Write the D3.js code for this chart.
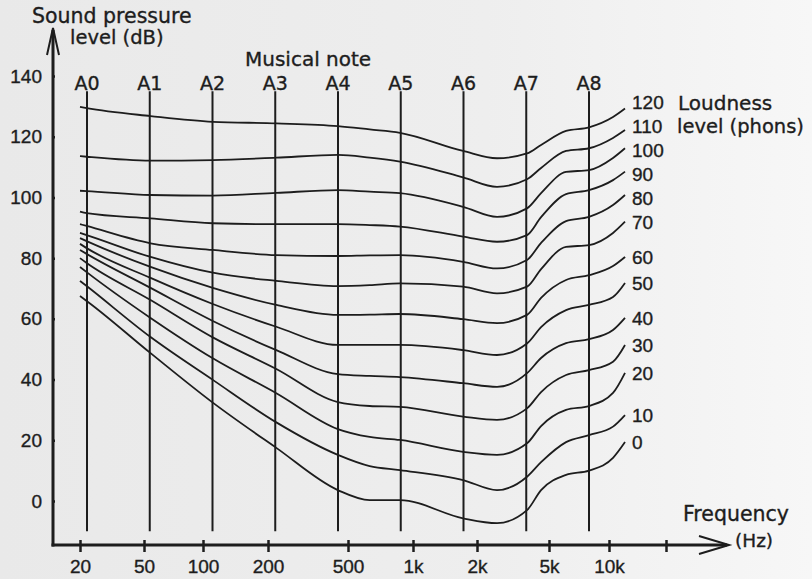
<!DOCTYPE html>
<html>
<head>
<meta charset="utf-8">
<script src="https://cdn.jsdelivr.net/npm/d3@7"></script>
<style>
  html, body { margin: 0; padding: 0; background: #eeeeee; }
  svg { display: block; }
  text { stroke: #1d1d1d; stroke-width: 0.35px; }
</style>
</head>
<body>
<svg id="chart"></svg>
<script>
// frequency axis (Hz)
const freqTicks = [20, 50, 100, 200, 500, 1000, 2000, 5000, 10000, 20000];
const freqTickLabels = ['20', '50', '100', '200', '500', '1k', '2k', '5k', '10k', ''];
// sound pressure axis (dB)
const dbTicks = [0, 20, 40, 60, 80, 100, 120, 140];
// musical notes, one octave apart
const notes = ['A0', 'A1', 'A2', 'A3', 'A4', 'A5', 'A6', 'A7', 'A8'];

const sampleFreqs = [20, 22, 54, 111, 220, 445, 630, 870, 1720, 2580, 3780, 4520, 6090, 7940, 10500, 12150];

// sound pressure level (dB) of each loudness contour at sampleFreqs
const spl120 = [129.8, 129.4, 126.8, 124.9, 124.4, 123.5, 122.4, 121.3, 115.3, 112.9, 114.5, 117.3, 121.9, 123.1, 126.5, 129.3];
const spl110 = [113.6, 113.4, 112.1, 112.3, 113.1, 114.0, 113.1, 111.8, 106.6, 103.5, 106.0, 109.7, 115.3, 116.2, 119.6, 122.2];
const spl100 = [102.2, 102.1, 100.8, 100.6, 101.5, 102.4, 101.9, 101.4, 96.9, 93.6, 96.4, 101.4, 108.4, 109.0, 113.0, 116.2];
const spl90 = [95.3, 94.8, 93.1, 91.5, 91.2, 91.2, 90.9, 90.4, 87.1, 85.4, 87.6, 93.5, 101.1, 102.4, 105.7, 108.5];
const spl80 = [91.2, 90.6, 84.9, 82.7, 81.0, 80.7, 80.9, 81.0, 78.8, 76.6, 79.4, 85.0, 92.2, 93.6, 97.5, 100.8];
const spl70 = [88.3, 87.6, 80.4, 75.2, 72.5, 70.8, 71.1, 71.7, 70.6, 68.4, 70.6, 76.4, 83.7, 84.3, 88.3, 92.0];
const spl60 = [86.6, 85.6, 77.1, 70.2, 64.6, 61.3, 61.4, 61.6, 59.9, 58.6, 61.3, 66.9, 72.8, 74.4, 77.4, 80.4];
const spl50 = [84.7, 83.3, 73.5, 64.9, 57.4, 51.4, 51.4, 51.4, 49.7, 48.1, 51.9, 57.3, 62.9, 64.6, 67.2, 71.8];
const spl40 = [82.7, 81.4, 70.2, 59.3, 49.7, 41.8, 41.2, 40.8, 38.8, 37.6, 42.1, 47.1, 52.0, 53.3, 56.3, 60.3];
const spl30 = [80.0, 78.4, 66.2, 53.9, 43.5, 32.6, 31.3, 31.0, 27.8, 26.7, 30.5, 35.9, 41.5, 43.1, 45.9, 51.4];
const spl20 = [77.1, 75.4, 60.3, 47.0, 35.5, 23.7, 21.1, 20.1, 16.2, 15.2, 19.0, 24.7, 30.0, 31.3, 35.6, 42.2];
const spl10 = [72.5, 70.8, 54.0, 39.9, 25.9, 15.2, 11.5, 10.2, 6.9, 3.6, 8.0, 12.8, 19.4, 21.7, 24.5, 28.3];
const spl0 = [67.5, 65.9, 48.7, 32.4, 17.5, 3.6, 0.3, 0.3, -5.7, -7.3, -3.0, 3.6, 8.6, 10.0, 14.2, 19.4];

const phons = [120, 110, 100, 90, 80, 70, 60, 50, 40, 30, 20, 10, 0];
const contours = [spl120, spl110, spl100, spl90, spl80, spl70, spl60, spl50, spl40, spl30, spl20, spl10, spl0];

const width = 812;
const height = 579;
const axisX = 53;
const axisY = 545;
const ink = '#1d1d1d';
const wordFont = '"DejaVu Sans", sans-serif';
const numFont = '"Liberation Sans", Arial, sans-serif';

// the hand drawn frequency axis is only roughly logarithmic,
// so the log scale is pinned at every tick
const freqTickX = [80, 144, 203, 268, 348, 413, 477, 549, 609, 666];
const x = d3.scaleLog().domain(freqTicks).range(freqTickX);
const y = d3.scaleLinear().domain([0, 140]).range([501, 76]);
const noteX = d3.scalePoint().domain(notes).range([87, 589]);

const svg = d3.select('#chart').attr('width', width).attr('height', height);

// scanned paper look
const grad = svg.append('defs').append('linearGradient').attr('id', 'paper');
grad.append('stop').attr('offset', '0%').attr('stop-color', '#e9e9e9');
grad.append('stop').attr('offset', '60%').attr('stop-color', '#eeeeee');
grad.append('stop').attr('offset', '100%').attr('stop-color', '#f7f7f7');
svg.append('rect').attr('width', width).attr('height', height).attr('fill', 'url(#paper)');

// musical note lines
const noteG = svg.append('g');
noteG.selectAll('line')
  .data(notes)
  .enter()
  .append('line')
  .attr('x1', d => noteX(d))
  .attr('x2', d => noteX(d))
  .attr('y1', y(135))
  .attr('y2', y(-10))
  .attr('stroke', ink)
  .attr('stroke-width', 2);

noteG.selectAll('text')
  .data(notes)
  .enter()
  .append('text')
  .attr('x', d => noteX(d))
  .attr('y', y(135) - 1.5)
  .attr('text-anchor', 'middle')
  .style('font-family', wordFont)
  .style('font-size', '19px')
  .style('fill', ink)
  .text(d => d);

// loudness contours
const line = d3.line()
  .x(d => x(d.f))
  .y(d => y(d.db))
  .curve(d3.curveMonotoneX);

const curveData = contours.map((spl, i) => ({
  phon: phons[i],
  points: sampleFreqs.map((f, j) => ({ f: f, db: spl[j] })),
}));

svg.append('g')
  .selectAll('path')
  .data(curveData)
  .enter()
  .append('path')
  .attr('d', d => line(d.points))
  .attr('fill', 'none')
  .attr('stroke', ink)
  .attr('stroke-width', 1.8);

// phon labels sit at the curve ends, pushed apart where the ends crowd
const labelY = curveData.map(d => y(d.points[d.points.length - 1].db));
for (let k = 0; k < 60; k++) {
  for (let i = 1; i < labelY.length; i++) {
    const gap = labelY[i] - labelY[i - 1];
    if (gap < 24) {
      labelY[i - 1] -= (24 - gap) / 2;
      labelY[i] += (24 - gap) / 2;
    }
  }
}

svg.append('g')
  .selectAll('text')
  .data(curveData)
  .enter()
  .append('text')
  .attr('x', d => x(d.points[d.points.length - 1].f) + 7)
  .attr('y', (d, i) => labelY[i])
  .attr('dy', '0.36em')
  .style('font-family', numFont)
  .style('font-size', '19px')
  .style('fill', ink)
  .text(d => d.phon);

// y axis
const yAxis = svg.append('g')
  .attr('transform', 'translate(' + axisX + ',0)')
  .call(d3.axisLeft(y).tickValues(dbTicks).tickSize(7).tickPadding(4));
yAxis.select('.domain').remove();
yAxis.selectAll('.tick line').attr('x2', 2).attr('stroke', ink).attr('stroke-width', 2.5);
yAxis.selectAll('.tick text')
  .style('font-family', numFont)
  .style('font-size', '19px')
  .style('fill', ink);

svg.append('line')
  .attr('x1', axisX).attr('x2', axisX)
  .attr('y1', 30).attr('y2', axisY + 1.5)
  .attr('stroke', ink).attr('stroke-width', 3);
svg.append('path')
  .attr('d', 'M47,55 L' + axisX + ',28 L59,55')
  .attr('fill', 'none').attr('stroke', ink).attr('stroke-width', 2);

// x axis
const xAxis = svg.append('g')
  .attr('transform', 'translate(0,' + axisY + ')')
  .call(d3.axisBottom(x).tickValues(freqTicks)
    .tickFormat((d, i) => freqTickLabels[i])
    .tickSize(7).tickPadding(8));
xAxis.select('.domain').remove();
xAxis.selectAll('.tick line').attr('y1', -5).attr('stroke', ink).attr('stroke-width', 2.5);
xAxis.selectAll('.tick text')
  .style('font-family', numFont)
  .style('font-size', '19px')
  .style('fill', ink);

svg.append('line')
  .attr('x1', axisX - 1.5).attr('x2', 727)
  .attr('y1', axisY).attr('y2', axisY)
  .attr('stroke', ink).attr('stroke-width', 3);
svg.append('path')
  .attr('d', 'M699,536 L729,' + axisY + ' L699,554')
  .attr('fill', 'none').attr('stroke', ink).attr('stroke-width', 2);

// titles
function label(tx, ty, str, size) {
  svg.append('text')
    .attr('x', tx)
    .attr('y', ty)
    .style('font-family', wordFont)
    .style('font-size', size + 'px')
    .style('fill', ink)
    .text(str);
}
label(32, 23, 'Sound pressure', 20.5);
label(70, 44, 'level (dB)', 19.5);
label(245, 66, 'Musical note', 20);
label(678, 110, 'Loudness', 20);
label(677, 133, 'level (phons)', 19.5);
label(683, 521, 'Frequency', 20.5);
label(735, 547, '(Hz)', 18.5);
</script>
</body>
</html>
